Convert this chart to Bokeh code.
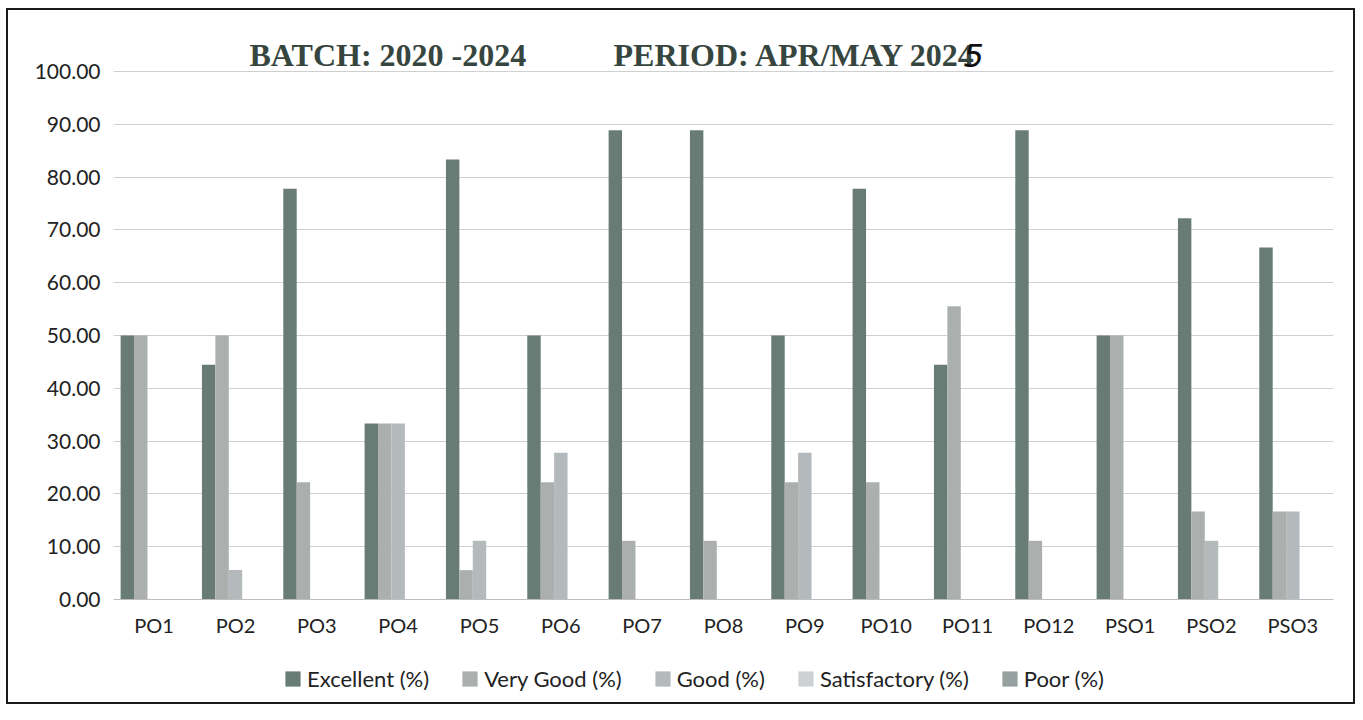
from bokeh.plotting import figure
from bokeh.models import (FactorRange, Range1d, Legend, LegendItem, Label,
                          NumeralTickFormatter, FixedTicker, ColumnDataSource, CategoricalAxis)
from bokeh.transform import dodge
from bokeh.embed import file_html
from bokeh.resources import INLINE

categories = ["PO1", "PO2", "PO3", "PO4", "PO5", "PO6", "PO7", "PO8", "PO9",
              "PO10", "PO11", "PO12", "PSO1", "PSO2", "PSO3"]
excellent = [50.00, 44.44, 77.78, 33.33, 83.33, 50.00, 88.89, 88.89, 50.00,
             77.78, 44.44, 88.89, 50.00, 72.22, 66.67]
very_good = [50.00, 50.00, 22.22, 33.33, 5.56, 22.22, 11.11, 11.11, 22.22,
             22.22, 55.56, 11.11, 50.00, 16.67, 16.67]
good = [0.00, 5.56, 0.00, 33.33, 11.11, 27.78, 0.00, 0.00, 27.78,
        0.00, 0.00, 0.00, 0.00, 11.11, 16.67]
satisfactory = [0.00, 0.00, 0.00, 0.00, 0.00, 0.00, 0.00, 0.00, 0.00,
                0.00, 0.00, 0.00, 0.00, 0.00, 0.00]
poor = [0.00, 0.00, 0.00, 0.00, 0.00, 0.00, 0.00, 0.00, 0.00,
        0.00, 0.00, 0.00, 0.00, 0.00, 0.00]
series_names = ["Excellent (%)", "Very Good (%)", "Good (%)", "Satisfactory (%)", "Poor (%)"]
y_ticks = [0, 10, 20, 30, 40, 50, 60, 70, 80, 90, 100]

colors = ["#687c75", "#abb0ae", "#b4b9bc", "#cdd1d4", "#96a19f"]
FONT = "Lato"

source = ColumnDataSource(dict(cat=categories, excellent=excellent, very_good=very_good,
                               good=good, satisfactory=satisfactory, poor=poor))

p = figure(width=1349, height=696, output_backend="svg", toolbar_location=None,
           x_range=FactorRange(*categories), y_range=Range1d(-20.27, 106.06),
           x_axis_location=None)
p.min_border_left = 105
p.min_border_right = 24
p.min_border_top = 29
p.min_border_bottom = 0
p.outline_line_color = None
p.background_fill_color = "white"
p.border_fill_color = "white"
p.styles = {"border": "2px solid #1a1a1a", "margin-left": "6px", "margin-top": "8px"}

bw = 0.165
offsets = [-2 * bw, -bw, 0, bw, 2 * bw]
fields = ["excellent", "very_good", "good", "satisfactory", "poor"]
renderers = []
for f, off, c in zip(fields, offsets, colors):
    r = p.vbar(x=dodge("cat", off, range=p.x_range), top=f, bottom=0, width=bw, source=source,
               fill_color=c, line_color=None)
    renderers.append(r)

# y axis
p.yaxis.ticker = FixedTicker(ticks=y_ticks)
p.yaxis.formatter = NumeralTickFormatter(format="0.00")
p.yaxis.axis_line_color = None
p.yaxis.major_tick_line_color = None
p.yaxis.minor_tick_line_color = None
p.yaxis.major_label_text_font = FONT
p.yaxis.major_label_text_font_size = "21px"
p.yaxis.major_label_text_color = "#222222"
p.yaxis.major_label_standoff = 7

# x axis fixed at y = 0
xaxis = CategoricalAxis(fixed_location=0)
xaxis.axis_line_color = "#bdbdbd"
xaxis.major_tick_line_color = None
xaxis.minor_tick_line_color = None
xaxis.major_label_text_font = FONT
xaxis.major_label_text_font_size = "20px"
xaxis.major_label_text_color = "#222222"
xaxis.major_label_standoff = 8
p.add_layout(xaxis, "below")

p.xgrid.grid_line_color = None
p.ygrid.ticker = FixedTicker(ticks=y_ticks)
p.ygrid.grid_line_color = "#cfcfcf"
p.ygrid.grid_line_width = 1

# title texts
p.add_layout(Label(x=1.672, y=100, y_offset=16, text="BATCH: 2020 -2024",
                   text_font="Liberation Serif", text_font_style="bold",
                   text_font_size="32px", text_color="#37453f",
                   text_baseline="alphabetic"))
p.add_layout(Label(x=6.148, y=100, y_offset=16, text="PERIOD: APR/MAY 2024",
                   text_font="Liberation Serif", text_font_style="bold",
                   text_font_size="32px", text_color="#37453f",
                   text_baseline="alphabetic"))
p.add_layout(Label(x=10.45, y=100, y_offset=16, text="5",
                   text_font="DejaVu Sans", text_font_style="italic",
                   text_font_size="32px", text_color="#111111",
                   text_baseline="alphabetic"))

legend = Legend(items=[LegendItem(label=n, renderers=[r]) for n, r in zip(series_names, renderers)],
                orientation="horizontal", location=(170, 14))
legend.label_text_font = FONT
legend.label_text_font_size = "22px"
legend.label_text_color = "#222222"
legend.glyph_width = 19
legend.glyph_height = 19
legend.label_standoff = 5
legend.spacing = 31
legend.padding = 5
legend.margin = 0
legend.border_line_color = None
legend.background_fill_alpha = 0
p.add_layout(legend, "center")

open("out.html", "w").write(file_html(p, INLINE))
